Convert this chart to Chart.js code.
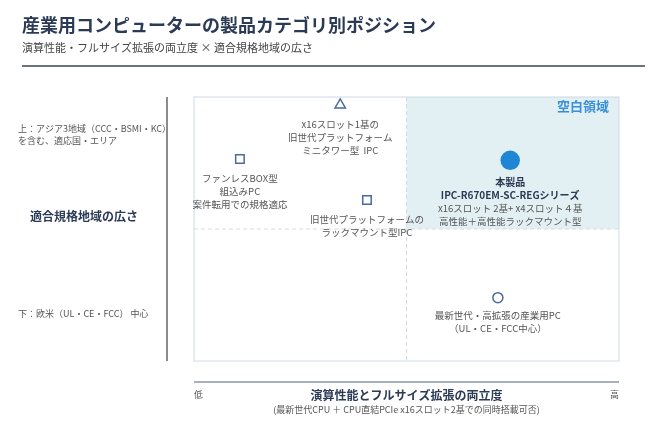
<!DOCTYPE html>
<html><head><meta charset="utf-8">
<script src="https://cdn.jsdelivr.net/npm/chart.js@4"></script>
<style>body{margin:0;background:#fff}</style>
</head><body>
<canvas id="c" width="671" height="426"></canvas>
<script>
const names = ['x16スロット1基の旧世代', 'ファンレスBOX型', '旧世代ラックマウント', '本製品', '最新世代産業用PC'];
const xVals = [3.44, 1.08, 4.07, 7.44, 7.15];
const yVals = [9.7, 7.65, 6.1, 7.6, 2.4];
const shapes = ['triangle', 'rect', 'rect', 'circle', 'circle'];
const sizes = [6, 6, 6, 9, 5];
const fills = ['#fff', '#fff', '#fff', '#1f86d6', '#fff'];
const strokes = ['#4a6a9a', '#4a6a9a', '#4a6a9a', '#1f86d6', '#4a6a9a'];
const labels = [
  [['x16スロット1基の', 0], ['旧世代プラットフォーム', 0], ['ミニタワー型  IPC', 0]],
  [['ファンレスBOX型', 0], ['組込みPC', 0], ['案件転用での規格適応', 0]],
  [['旧世代プラットフォームの', 0], ['ラックマウント型IPC', 0]],
  [['本製品', 1], ['IPC-R670EM-SC-REGシリーズ', 1], ['x16スロット 2基+ x4スロット４基', 0], ['高性能＋高性能ラックマウント型', 0]],
  [['最新世代・高拡張の産業用PC', 0], ['（UL・CE・FCC中心）', 0]]
];
const F = '"Noto Sans CJK JP", "Noto Sans", sans-serif';

const deco = {
  id: 'deco',
  beforeDatasetsDraw(ch) {
    const c = ch.ctx, a = ch.chartArea, x = ch.scales.x, y = ch.scales.y;
    c.save();
    c.fillStyle = '#e3f0f3';
    c.fillRect(x.getPixelForValue(5), y.getPixelForValue(10), x.getPixelForValue(10) - x.getPixelForValue(5), y.getPixelForValue(5) - y.getPixelForValue(10));
    c.strokeStyle = '#d0dae6'; c.lineWidth = 1;
    c.strokeRect(a.left, a.top, a.right - a.left, a.bottom - a.top);
    c.setLineDash([4, 3]); c.strokeStyle = '#d6dbe0';
    c.beginPath();
    c.moveTo(x.getPixelForValue(5), a.top); c.lineTo(x.getPixelForValue(5), a.bottom);
    c.moveTo(a.left, y.getPixelForValue(5)); c.lineTo(a.right, y.getPixelForValue(5));
    c.stroke(); c.setLineDash([]);
    c.restore();
  },
  afterDatasetsDraw(ch) {
    const c = ch.ctx, a = ch.chartArea, x = ch.scales.x, y = ch.scales.y;
    c.save();
    c.textBaseline = 'middle';
    // titles
    c.fillStyle = '#2b3a55'; c.font = 'bold 18px ' + F; c.textAlign = 'left';
    c.fillText('産業用コンピューターの製品カテゴリ別ポジション', 22, 25);
    c.fillStyle = '#444'; c.font = '11px ' + F;
    c.fillText('演算性能・フルサイズ拡張の両立度 × 適合規格地域の広さ', 22, 48);
    c.strokeStyle = '#3a4450'; c.lineWidth = 1.5;
    c.beginPath(); c.moveTo(22, 66); c.lineTo(645, 66); c.stroke();
    // axis lines
    c.strokeStyle = '#666'; c.lineWidth = 1.5;
    c.beginPath(); c.moveTo(167, a.top); c.lineTo(167, a.bottom); c.stroke();
    c.strokeStyle = '#8a96a6';
    c.beginPath(); c.moveTo(a.left, 382); c.lineTo(a.right, 382); c.stroke();
    // y-axis texts
    c.fillStyle = '#555'; c.font = '9px ' + F;
    c.fillText('上：アジア3地域（CCC・BSMI・KC）', 18, 129);
    c.fillText('を含む、適応国・エリア', 18, 141);
    c.fillText('下：欧米（UL・CE・FCC） 中心', 18, 314);
    c.fillStyle = '#2b3a55'; c.font = 'bold 12px ' + F;
    c.fillText('適合規格地域の広さ', 30, 216);
    // x-axis texts
    c.fillStyle = '#555'; c.font = '9px ' + F;
    c.fillText('低', a.left, 395);
    c.textAlign = 'right'; c.fillText('高', a.right, 395);
    c.textAlign = 'center';
    c.fillStyle = '#2b3a55'; c.font = 'bold 12px ' + F;
    c.fillText('演算性能とフルサイズ拡張の両立度', (a.left + a.right) / 2, 395);
    c.fillStyle = '#555'; c.font = '9px ' + F;
    c.fillText('(最新世代CPU ＋ CPU直結PCIe x16スロット2基での同時搭載可否)', (a.left + a.right) / 2, 410);
    // region label
    c.textAlign = 'right'; c.fillStyle = '#3a8fd8'; c.font = 'bold 13px ' + F;
    c.fillText('空白領域', a.right - 10, 106);
    // point labels
    c.textAlign = 'center';
    labels.forEach((ls, i) => {
      const px = x.getPixelForValue(xVals[i]);
      let py = y.getPixelForValue(yVals[i]) + sizes[i] + 13;
      ls.forEach(([t, b]) => {
        c.font = (b ? 'bold 10px ' : '9.5px ') + F;
        c.fillStyle = b ? '#2b3a55' : '#555';
        c.fillText(t, px, py);
        py += 13;
      });
    });
    c.restore();
  }
};

new Chart(document.getElementById('c'), {
  type: 'scatter',
  data: {
    datasets: [{
      label: '製品',
      data: xVals.map((v, i) => ({ x: v, y: yVals[i] })),
      pointStyle: shapes,
      pointRadius: sizes,
      pointBackgroundColor: fills,
      pointBorderColor: strokes,
      pointBorderWidth: 1.5
    }]
  },
  options: {
    responsive: false,
    animation: false,
    layout: { padding: { left: 194, top: 97, right: 52, bottom: 65 } },
    plugins: { legend: { display: false }, tooltip: { enabled: false } },
    scales: {
      x: { display: false, min: 0, max: 10 },
      y: { display: false, min: 0, max: 10 }
    }
  },
  plugins: [deco]
});
</script>
</body></html>
